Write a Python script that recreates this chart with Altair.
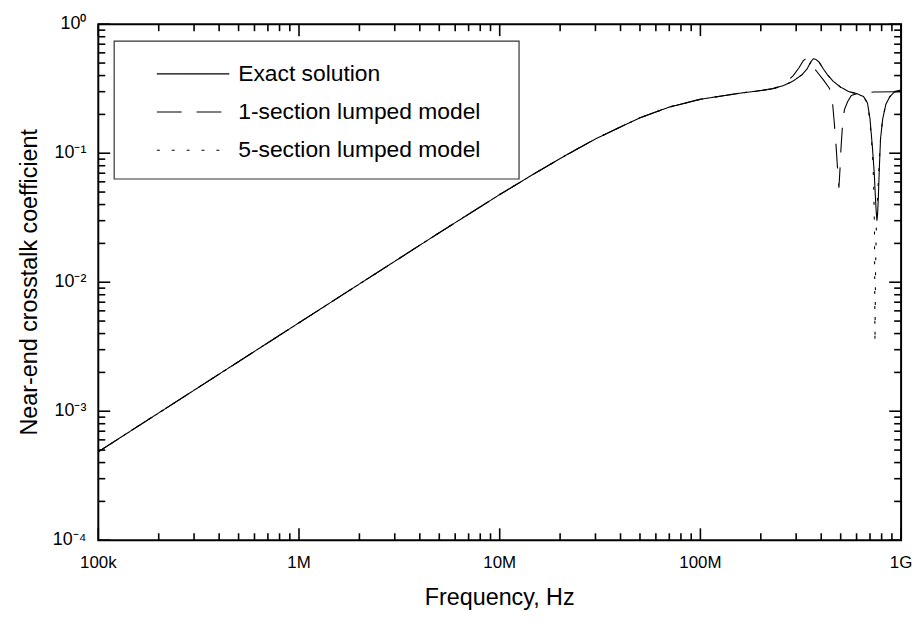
import altair as alt
import pandas as pd

series_names = ["Exact solution", "1-section lumped model", "5-section lumped model"]

exact_freq = [1e5, 1e6, 5e6, 1e7, 1.5e7, 2e7, 3e7, 4e7, 5e7, 7e7,
              1e8, 1.3e8, 1.6e8, 2e8, 2.3e8, 2.6e8, 2.9e8, 3.2e8, 3.4e8, 3.55e8,
              3.65e8, 3.75e8, 3.9e8, 4.1e8, 4.3e8, 4.6e8, 5e8, 5.5e8, 6e8, 6.5e8,
              6.8e8, 7e8, 7.2e8, 7.35e8, 7.45e8, 7.52e8, 7.58e8, 7.64e8, 7.7e8, 7.8e8,
              7.9e8, 8.1e8, 8.4e8, 8.8e8, 9.3e8, 1e9]
exact_val = [4.85e-4, 4.85e-3, 0.0242, 0.0478, 0.070, 0.091, 0.129, 0.160, 0.188, 0.228,
             0.262, 0.279, 0.293, 0.306, 0.316, 0.335, 0.363, 0.405, 0.45, 0.51,
             0.54, 0.535, 0.51, 0.45, 0.405, 0.36, 0.325, 0.30, 0.29, 0.275,
             0.245, 0.185, 0.11, 0.07, 0.045, 0.035, 0.03, 0.034, 0.045, 0.08,
             0.13, 0.185, 0.24, 0.275, 0.30, 0.31]

one_freq = [1e5, 1e6, 5e6, 1e7, 1.5e7, 2e7, 3e7, 4e7, 5e7, 7e7,
            1e8, 1.3e8, 1.6e8, 2e8, 2.3e8, 2.5e8, 2.7e8, 2.9e8, 3.1e8, 3.25e8,
            3.35e8, 3.45e8, 3.6e8, 3.8e8, 4.1e8, 4.4e8, 4.55e8, 4.65e8, 4.75e8, 4.84e8,
            4.9e8, 4.96e8, 5.02e8, 5.1e8, 5.22e8, 5.42e8, 5.65e8, 6.05e8, 7.3e8, 1e9]
one_val = [4.85e-4, 4.85e-3, 0.0242, 0.0478, 0.070, 0.091, 0.129, 0.160, 0.188, 0.228,
           0.262, 0.279, 0.293, 0.306, 0.318, 0.332, 0.36, 0.40, 0.46, 0.52,
           0.54, 0.525, 0.48, 0.43, 0.37, 0.318, 0.25, 0.17, 0.11, 0.07,
           0.054, 0.075, 0.11, 0.16, 0.218, 0.252, 0.28, 0.29, 0.298, 0.30]

five_freq = [1e5, 1e6, 5e6, 1e7, 1.5e7, 2e7, 3e7, 4e7, 5e7, 7e7,
             1e8, 1.3e8, 1.6e8, 2e8, 2.3e8, 2.6e8, 2.9e8, 3.2e8, 3.4e8, 3.55e8,
             3.65e8, 3.75e8, 3.9e8, 4.1e8, 4.3e8, 4.6e8, 5e8, 5.5e8, 6e8, 6.5e8,
             6.8e8, 7e8, 7.2e8, 7.3e8, 7.37e8, 7.41e8, 7.46e8, 7.52e8, 7.6e8, 7.7e8,
             7.8e8, 7.9e8, 8.1e8, 8.4e8, 8.8e8, 9.3e8, 1e9]
five_val = [4.85e-4, 4.85e-3, 0.0242, 0.0478, 0.070, 0.091, 0.129, 0.160, 0.188, 0.228,
            0.262, 0.279, 0.293, 0.306, 0.316, 0.335, 0.363, 0.405, 0.45, 0.51,
            0.54, 0.535, 0.51, 0.45, 0.405, 0.36, 0.325, 0.30, 0.29, 0.275,
            0.245, 0.175, 0.10, 0.06, 0.025, 0.0034, 0.012, 0.025, 0.04, 0.06,
            0.09, 0.13, 0.185, 0.24, 0.275, 0.30, 0.31]

x_major = [1e5, 1e6, 1e7, 1e8, 1e9]
x_labels = ["100k", "1M", "10M", "100M", "1G"]
y_major = [1e-4, 1e-3, 1e-2, 1e-1, 1.0]
y_labels = ["10\u207b\u2074", "10\u207b\u00b3", "10\u207b\u00b2", "10\u207b\u00b9", "10\u2070"]
x_title = "Frequency, Hz"
y_title = "Near-end crosstalk coefficient"

x_minor = [m * 10 ** k for k in range(5, 9) for m in range(2, 10)]
y_minor = [m * 10.0 ** k for k in range(-4, 0) for m in range(2, 10)]

rows = []
for name, fs, vs in zip(series_names, [exact_freq, one_freq, five_freq], [exact_val, one_val, five_val]):
    for i, (f, v) in enumerate(zip(fs, vs)):
        rows.append({"series": name, "f": f, "c": v, "i": i})
df = pd.DataFrame(rows)

FONT = "Liberation Sans"
W, H = 809, 520
MAJ, MIN = 12, 7
xscale = alt.Scale(type="log", domain=[1e5, 1e9], nice=False)
yscale = alt.Scale(type="log", domain=[1e-4, 1.0], nice=False)

legend_box = alt.Chart(alt.Data(values=[{}])).mark_rect(
    fill="white", stroke="#333333", strokeWidth=1.2
).encode(x=alt.value(16), x2=alt.value(424), y=alt.value(17), y2=alt.value(156))

lines = alt.Chart(df).mark_line(color="black", strokeWidth=1.1, clip=True).encode(
    x=alt.X("f:Q", scale=xscale, axis=None),
    y=alt.Y("c:Q", scale=yscale, axis=None),
    strokeDash=alt.StrokeDash(
        "series:N",
        scale=alt.Scale(domain=series_names, range=[[1, 0], [25, 15], [3, 12]]),
        legend=alt.Legend(
            title=None, orient="none", legendX=83, legendY=37.5, padding=0,
            symbolType="M-3.174,0H3.174", symbolSize=529, symbolStrokeWidth=1.1,
            symbolStrokeColor="black", symbolFillColor="black", labelFont=FONT, labelFontSize=23,
            labelColor="black", labelOffset=33, rowPadding=13.5,
            labelLimit=400,
        ),
    ),
    order="i:Q",
)


def xticks(values, center, length, side):
    data = pd.DataFrame({"tx": values, "side": [side] * len(values)})
    return alt.Chart(data).mark_tick(color="black", thickness=1.6, opacity=1).encode(
        x=alt.X("tx:Q", scale=xscale, axis=None), y=alt.value(center), size=alt.value(length))


def yticks(values, center, length, side):
    data = pd.DataFrame({"ty": values, "side": [side] * len(values)})
    return alt.Chart(data).mark_tick(color="black", thickness=1.6, opacity=1).encode(
        y=alt.Y("ty:Q", scale=yscale, axis=None), x=alt.value(center), size=alt.value(length))


tick_layers = [
    xticks(x_major, H - MAJ / 2, MAJ, "bottom"), xticks(x_minor, H - MIN / 2, MIN, "bottom"),
    xticks(x_major, MAJ / 2, MAJ, "top"), xticks(x_minor, MIN / 2, MIN, "top"),
    yticks(y_major, MAJ / 2, MAJ, "left"), yticks(y_minor, MIN / 2, MIN, "left"),
    yticks(y_major, W - MAJ / 2, MAJ, "right"), yticks(y_minor, W - MIN / 2, MIN, "right"),
]

x_tick_text = alt.Chart(pd.DataFrame({"xl": x_major, "label": x_labels})).mark_text(
    font=FONT, fontSize=17, color="black", align="center", baseline="middle"
).encode(x=alt.X("xl:Q", scale=xscale, axis=None), y=alt.value(H + 23), text="label:N")

y_tick_text = alt.Chart(pd.DataFrame({"yl": y_major, "label": y_labels})).mark_text(
    font=FONT, fontSize=18, color="black", align="right", baseline="middle"
).encode(y=alt.Y("yl:Q", scale=yscale, axis=None), x=alt.value(-12), text="label:N")

x_title_text = alt.Chart(pd.DataFrame({"t": [x_title]})).mark_text(
    font=FONT, fontSize=23.5, color="black", align="center", baseline="middle"
).encode(x=alt.value(W / 2), y=alt.value(H + 58), text="t:N")

y_title_text = alt.Chart(pd.DataFrame({"t": [y_title]})).mark_text(
    font=FONT, fontSize=23.5, color="black", align="center", baseline="middle", angle=270
).encode(x=alt.value(-69), y=alt.value(H / 2), text="t:N")

chart = alt.layer(
    legend_box,
    lines,
    x_tick_text,
    y_tick_text,
    x_title_text,
    y_title_text,
    *tick_layers,
).properties(
    width=W, height=H,
    autosize=alt.AutoSizeParams(type="none"),
    padding={"left": 91, "top": 14, "right": 12, "bottom": 74},
).configure_view(stroke="black", strokeWidth=2)

chart.save("out.html", embed_options={"renderer": "svg", "actions": False})
